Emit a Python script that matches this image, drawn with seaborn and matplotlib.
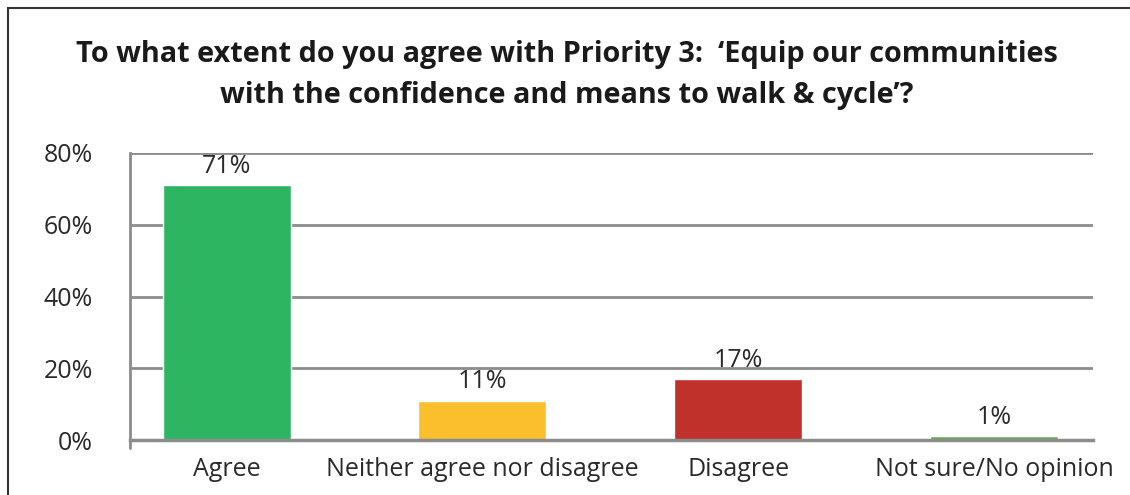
import matplotlib
matplotlib.use("Agg")
import matplotlib.pyplot as plt
import seaborn as sns
import pandas as pd
from matplotlib.patches import Rectangle

categories = ["Agree", "Neither agree nor disagree", "Disagree", "Not sure/No opinion"]
values = [71, 11, 17, 1]
labels = ["71%", "11%", "17%", "1%"]
colors = ["#2EB562", "#FBBF2E", "#C1312B", "#6AB04C"]
yticks = [0, 20, 40, 60, 80]
ytick_labels = ["0%", "20%", "40%", "60%", "80%"]
title = "To what extent do you agree with Priority 3:  \u2018Equip our communities\nwith the confidence and means to walk & cycle\u2019?"

sns.set_theme(style="white")
plt.rcParams['font.family'] = ['Open Sans', 'DejaVu Sans']

df = pd.DataFrame({"cat": categories, "val": values})

fig = plt.figure(figsize=(11.3, 4.95), dpi=100)
ax = fig.add_axes([130/1130, 55/495, (1093-130)/1130, (440-153)/495])

sns.barplot(data=df, x="cat", y="val", hue="cat", palette=colors, legend=False,
            width=0.5, ax=ax, saturation=1, zorder=3)

ax.set_ylim(0, 80)
ax.set_xlim(-0.377, 3.385)
ax.set_yticks(yticks)
ax.set_yticklabels(ytick_labels, fontsize=18, color="#2A2A2A")
ax.set_xticks(range(len(categories)))
ax.set_xticklabels(categories, fontsize=18, color="#2A2A2A")
ax.set_xlabel("")
ax.set_ylabel("")
ax.yaxis.grid(True, color="#8C8C8C", linewidth=2, zorder=0)
ax.set_axisbelow(True)
for s in ["top", "right"]:
    ax.spines[s].set_visible(False)
ax.spines["left"].set_color("#8C8C8C")
ax.spines["left"].set_linewidth(2)
ax.spines["bottom"].set_color("#8C8C8C")
ax.spines["bottom"].set_linewidth(2.5)
ax.spines["bottom"].set_zorder(4)
ax.tick_params(axis="y", length=7, width=2, color="#8C8C8C", direction="out", pad=19.5)
ax.tick_params(axis="x", length=0, pad=12)
ax.plot([-0.377, -0.377], [0, -2.3], color="#8C8C8C", linewidth=2, clip_on=False, zorder=4)

for i, (v, lab) in enumerate(zip(values, labels)):
    ax.text(i, v + 1.8, lab, ha="center", va="bottom", fontsize=18, color="#2A2A2A")

fig.text(567/1130, 1 - 75/495, title, ha="center", va="center", fontsize=20.8,
         fontweight="bold", color="#1A1A1A", linespacing=1.56)

fig.patches.append(Rectangle((8/1130, -0.1), 1.2, 1 - 8/495 + 0.1, transform=fig.transFigure,
                             fill=False, edgecolor="#333333", linewidth=1.5))

fig.savefig("out.png", dpi=100)
